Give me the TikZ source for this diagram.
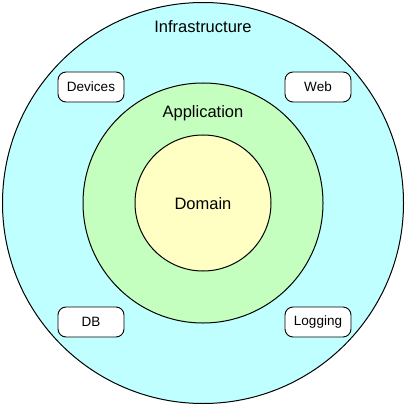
\documentclass[tikz,border=0pt]{standalone}
\usepackage{fontspec}
\setmainfont{Liberation Sans}
\usepackage{tikz}
\usetikzlibrary{positioning}
\definecolor{infra}{HTML}{C0FFFF}
\definecolor{appl}{HTML}{C4FFC0}
\definecolor{dom}{HTML}{FFFFC4}

\begin{document}
\begin{tikzpicture}[x=1pt, y=-1pt,
    ring/.style={circle, draw=black, line width=1pt, inner sep=0pt},
    boxnode/.style={draw=black, fill=white, rounded corners=8pt, line width=0.9pt,
      minimum width=66pt, minimum height=30pt, font=\fontsize{13.5}{15}\selectfont},
    lbl/.style={font=\fontsize{16.5}{19}\selectfont}]
  \useasboundingbox (0,0) rectangle (406,406);
  % rings
  \node[ring, fill=infra, minimum size=401pt] (infrastructure) at (203,203) {};
  \node[ring, fill=appl, minimum size=240pt] (application) at (203,203) {};
  \node[ring, fill=dom, minimum size=136pt] (domain) at (203,203) {};
  % ring labels
  \node[lbl] (infralbl) at (203,27) {Infrastructure};
  \node[lbl] (appllbl) at (203,113) {Application};
  \node[lbl] at (203,204) {Domain};
  % adapters
  \node[boxnode] (devices) at (91,87) {Devices};
  \node[boxnode] (web) at (318,87) {Web};
  \node[boxnode] (db) at (91,322) {DB};
  \node[boxnode] (logging) at (318,322) {Logging};
\end{tikzpicture}
\end{document}
